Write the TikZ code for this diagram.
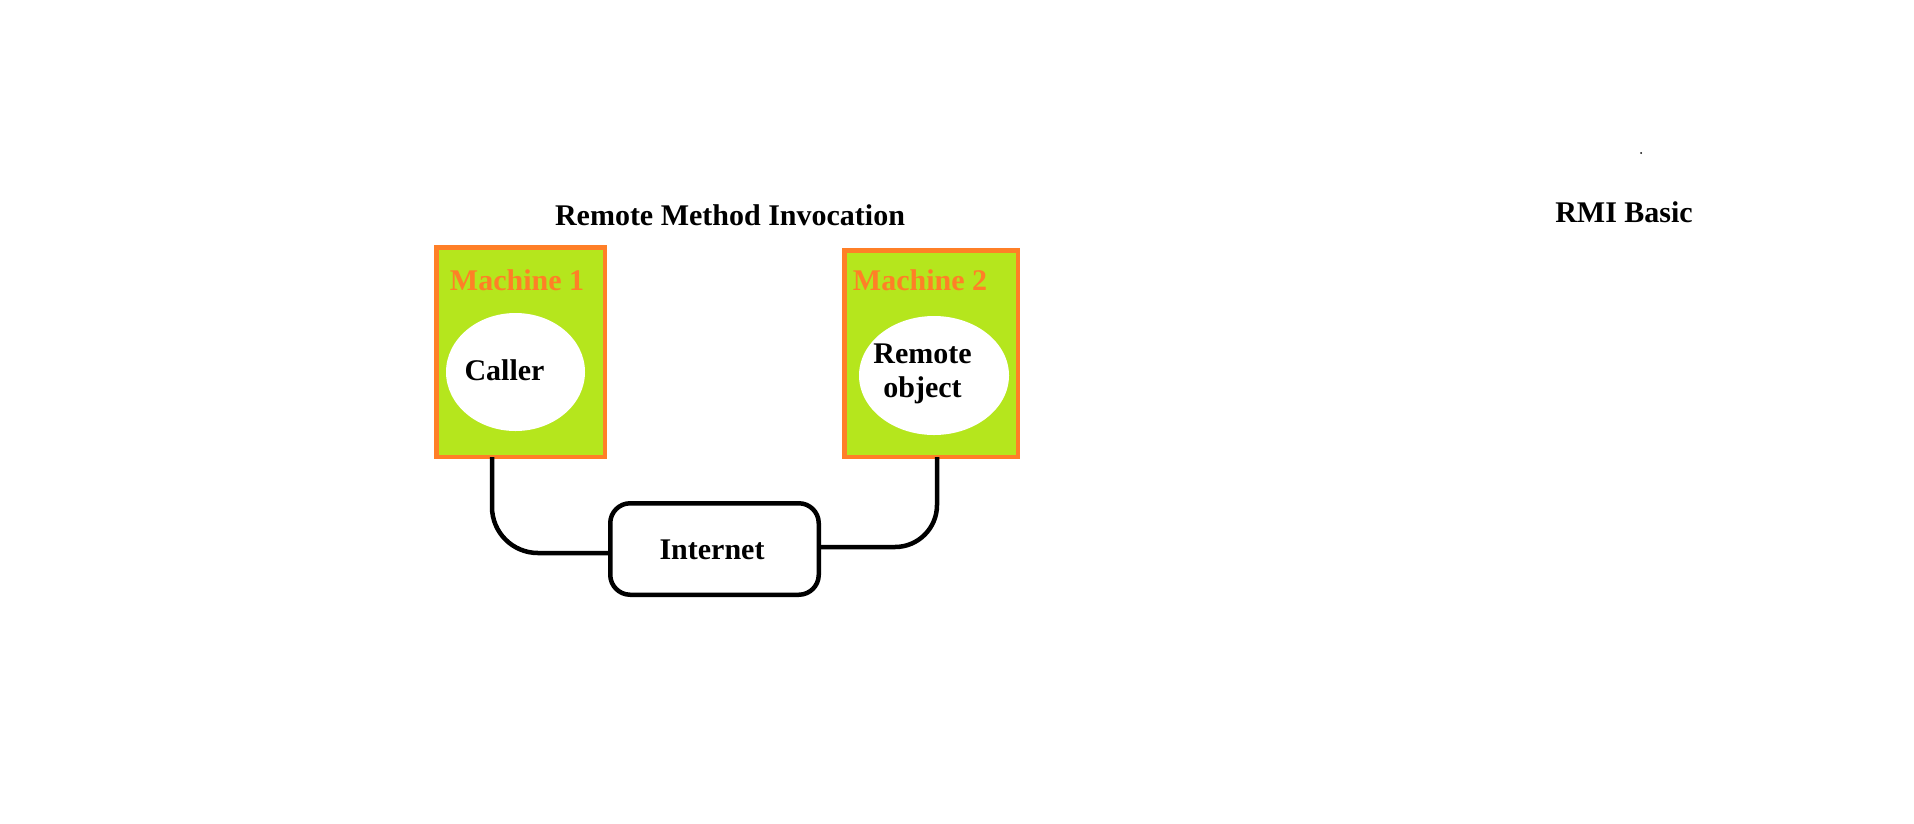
\documentclass[tikz,border=0pt]{standalone}
\usepackage{fontspec}
\setmainfont{Liberation Serif}
\usetikzlibrary{shapes.geometric,calc}
\definecolor{lime}{HTML}{B5E61D}
\definecolor{paintorange}{HTML}{FF7F27}
\tikzset{
  machine/.style={draw=paintorange, line width=4.5pt, fill=lime, inner sep=0pt},
  blob/.style={ellipse, fill=white, inner sep=0pt},
  lbl/.style={font=\bfseries\fontsize{30}{34}\selectfont, inner sep=0pt, align=center},
  wire/.style={line width=4.5pt, black},
}
\begin{document}
\begin{tikzpicture}[x=1pt,y=-1pt]
\useasboundingbox[fill=white] (0,0) rectangle (1914,823);
% machines
\node[machine, minimum width=168.5pt, minimum height=209.5pt] (m1) at (520.5,352) {};
\node[machine, minimum width=173.5pt, minimum height=206.5pt] (m2) at (931,353.5) {};
\node[blob, minimum width=139pt, minimum height=118pt] (e1) at (515.5,372) {};
\node[blob, minimum width=150pt, minimum height=119pt] (e2) at (934,375.5) {};
\node[lbl, text=paintorange] (t1) at (517,280) {Machine 1};
\node[lbl, text=paintorange] (t2) at (920,280) {Machine 2};
\node[lbl] (caller) at (504.5,370) {Caller};
\node[lbl] (robj) at (922.5,374) {Remote\\object};
% internet
\node[draw, line width=4.5pt, rounded corners=20pt, minimum width=208.5pt, minimum height=91.5pt, inner sep=0pt] (inet) at (714.5,549) {};
\node[lbl] (itxt) at (712,550) {Internet};
% wires
\coordinate (a1) at (492,457);
\coordinate (a2) at (937,457);
\draw[wire, rounded corners=46pt] (a1) |- ($(inet.west)+(0,4)$);
\draw[wire, rounded corners=42pt] ($(inet.east)+(0,-2)$) -| (a2);
% titles
\node[lbl] (title) at (730,215) {Remote Method Invocation};
\node[lbl] (rmi) at (1624,212) {RMI Basic};
\fill (1641,153) circle (1pt);
\end{tikzpicture}
\end{document}
